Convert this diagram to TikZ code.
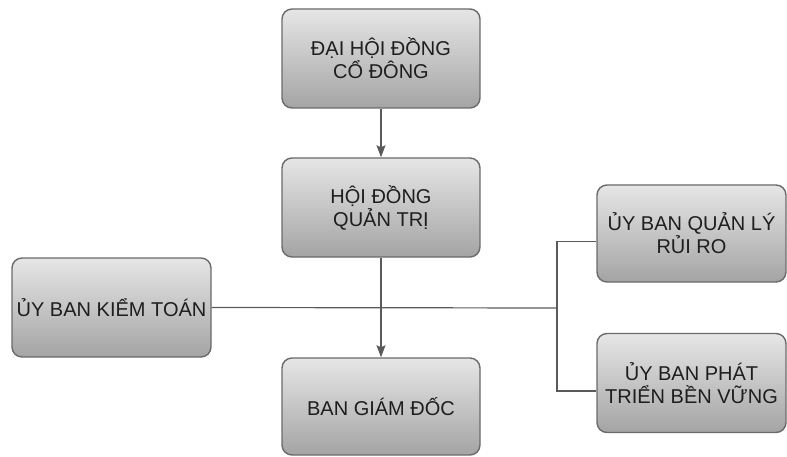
\documentclass[tikz,border=0pt]{standalone}
\usepackage{fontspec}
\setmainfont{Liberation Sans}
\usetikzlibrary{arrows.meta,calc}
\definecolor{boxtop}{HTML}{E6E6E6}
\definecolor{boxbot}{HTML}{A4A4A4}
\definecolor{edge}{HTML}{6A6A6A}
\definecolor{conncol}{HTML}{5A5A5A}
\definecolor{txt}{HTML}{1E1E1E}
\tikzset{
  orgbox/.style={draw=edge, line width=1.4pt, rounded corners=10pt,
    top color=boxtop, bottom color=boxbot, align=center, inner sep=2pt,
    text=txt, font=\fontsize{20}{23}\selectfont},
  conn/.style={draw=conncol, line width=1.2pt},
  arr/.style={conn, -{Stealth[length=12pt,width=9pt,inset=2pt]}}
}
\begin{document}
\begin{tikzpicture}[x=1pt,y=-1pt]
\useasboundingbox (0,0) rectangle (787,457);
\node[orgbox, minimum width=198pt, minimum height=99pt] (dh) at (381,58.5) {ĐẠI HỘI ĐỒNG\\CỔ ĐÔNG};
\node[orgbox, minimum width=198pt, minimum height=99pt] (hd) at (381,207.5) {HỘI ĐỒNG\\QUẢN TRỊ};
\node[orgbox, minimum width=199pt, minimum height=99pt] (kt) at (111.5,307.5) {ỦY BAN KIỂM TOÁN};
\node[orgbox, minimum width=189pt, minimum height=97pt] (rr) at (691.5,233.5) {ỦY BAN QUẢN LÝ\\RỦI RO};
\node[orgbox, minimum width=189pt, minimum height=99pt] (pt) at (691.5,383) {ỦY BAN PHÁT\\TRIỂN BỀN VỮNG};
\node[orgbox, minimum width=198pt, minimum height=97pt] (gd) at (381,406.5) {BAN GIÁM ĐỐC};
\coordinate (j) at (557,308);
\draw[arr] (dh) -- (hd);
\draw[arr] (hd) -- (gd);
\draw[conn] (kt.east) -- (j);
\draw[conn] ([yshift=-8pt]rr.west) -| (j) |- ([yshift=-8pt]pt.west);
\end{tikzpicture}
\end{document}
